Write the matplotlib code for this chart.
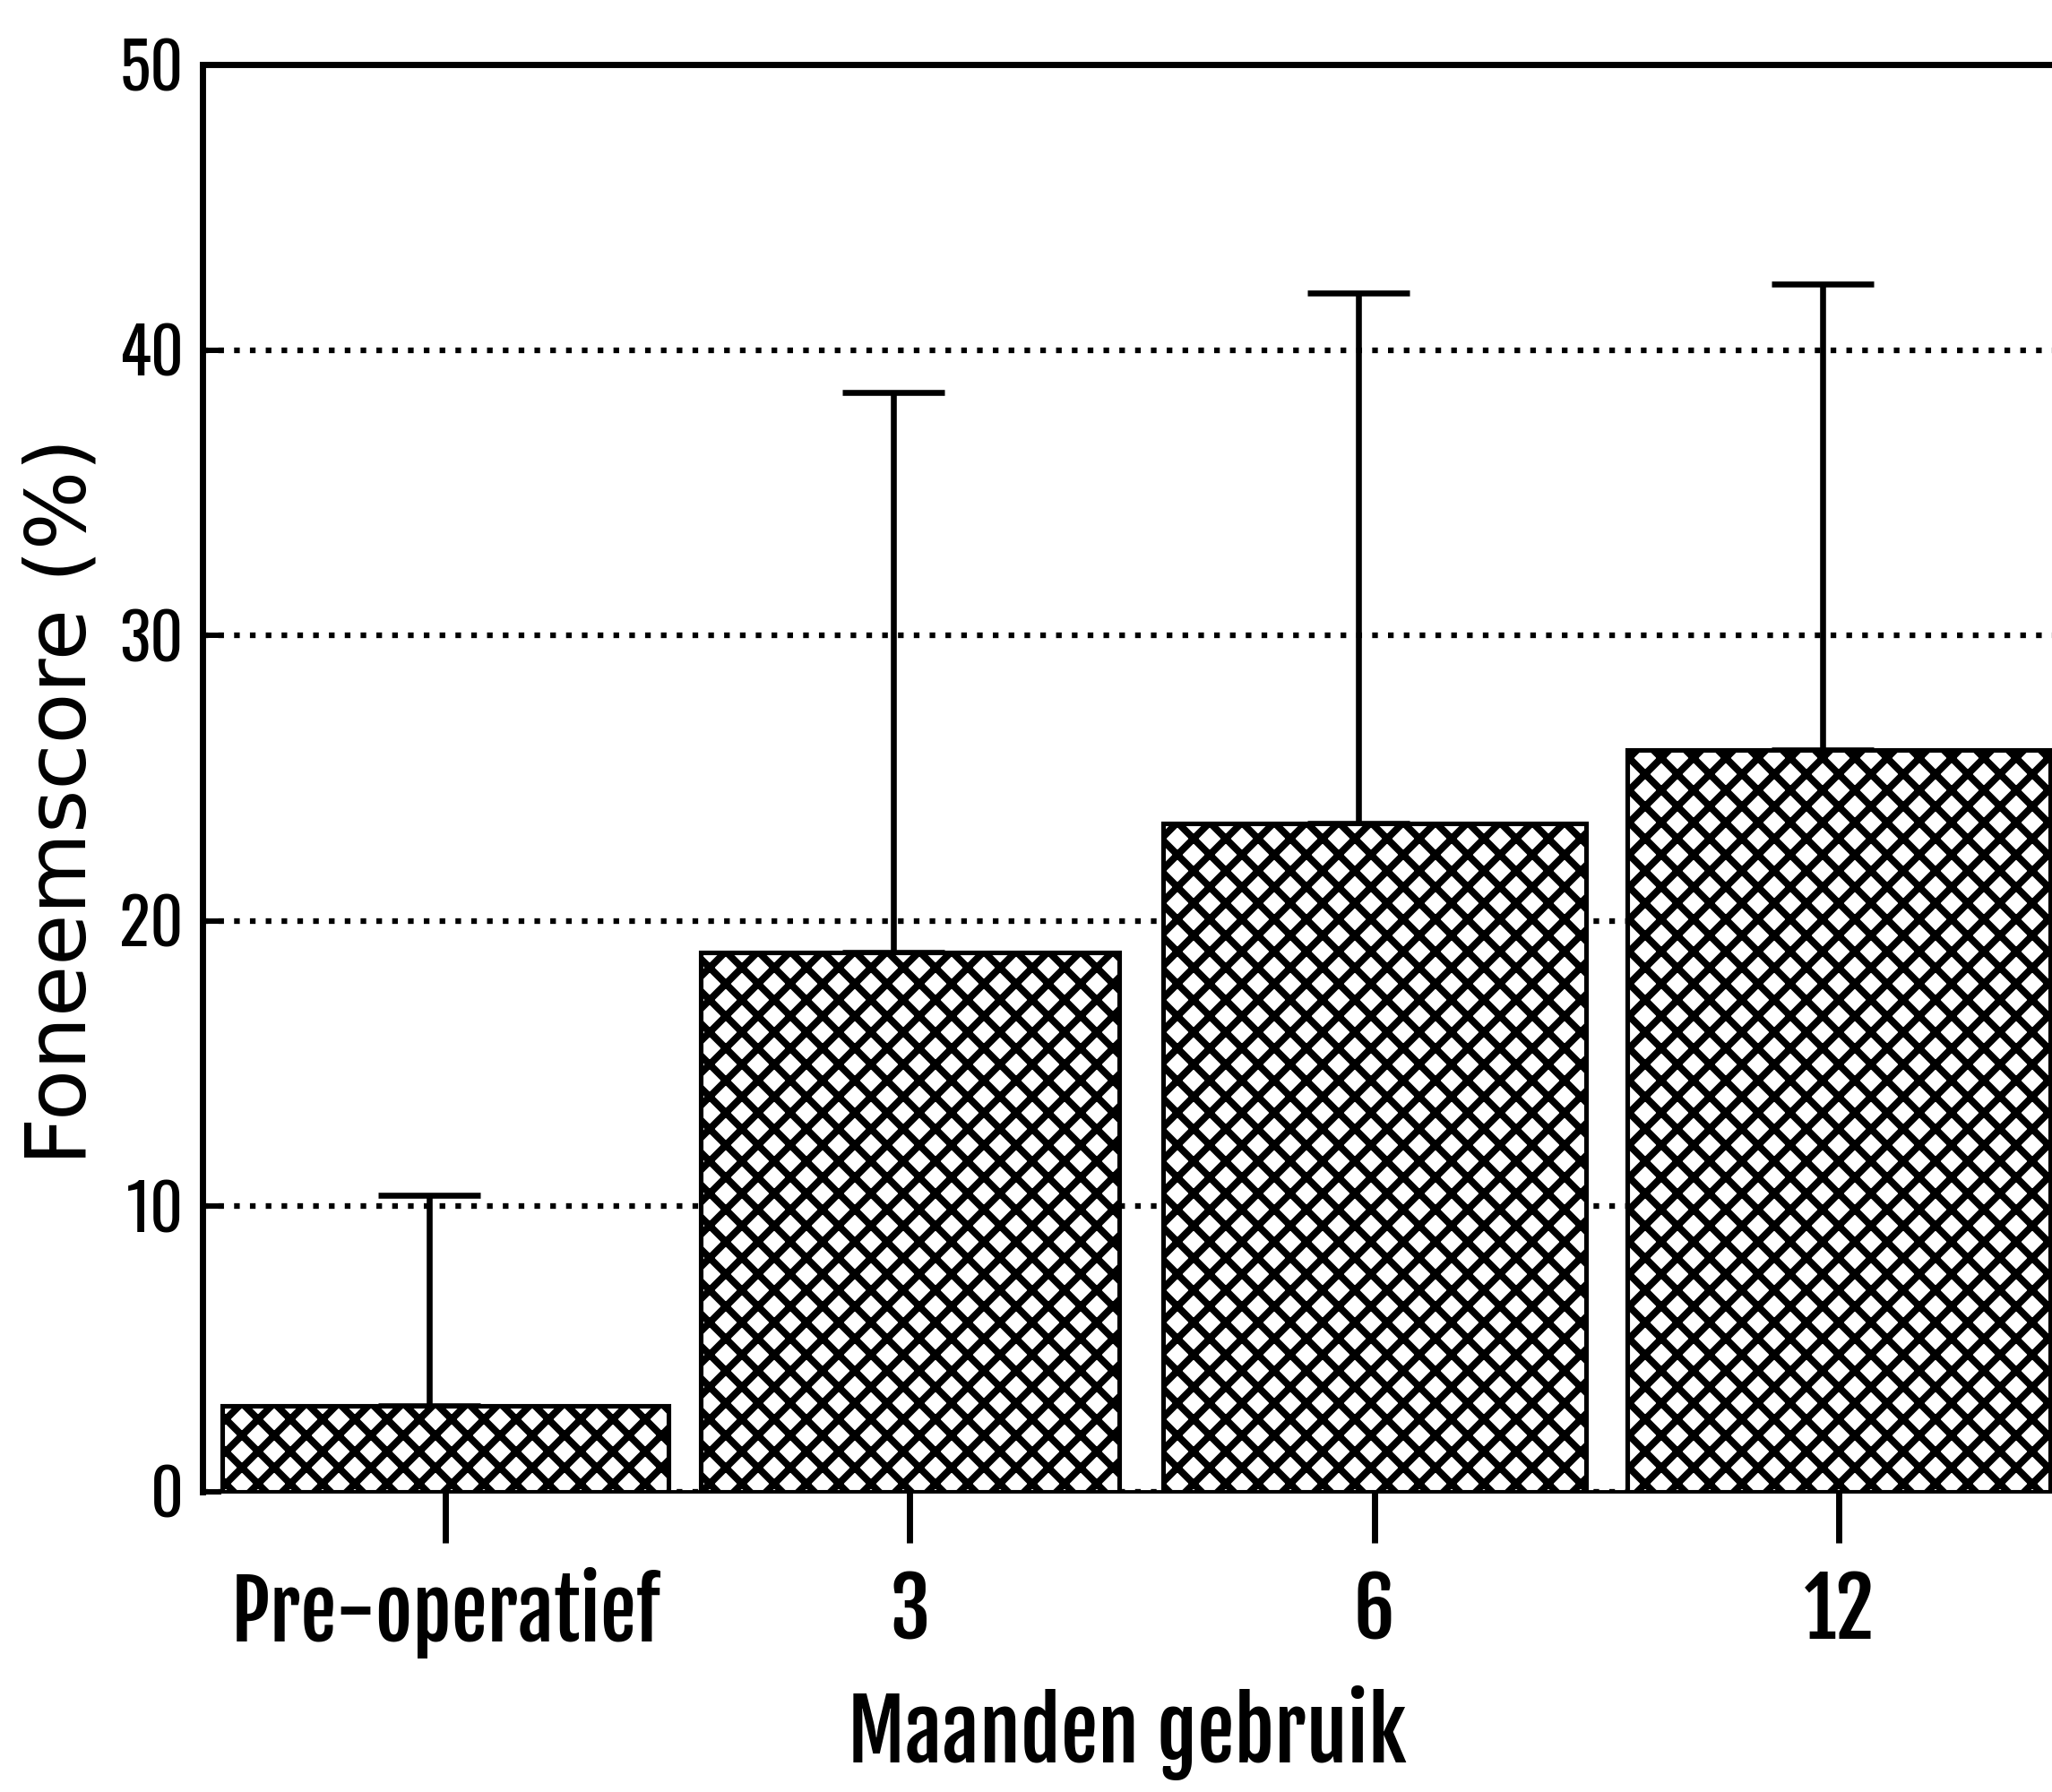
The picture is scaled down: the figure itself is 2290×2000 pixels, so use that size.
import matplotlib
matplotlib.use('Agg')
import matplotlib.pyplot as plt
import numpy as np
from matplotlib import font_manager

# data
categories = ['Pre-operatief', '3', '6', '12']
means = [3.0, 18.9, 23.4, 26.0]
sd_upper = [7.4, 19.6, 18.6, 16.3]
bar_widths = [0.96, 0.9, 0.91, 0.91]
y_ticks = [0, 10, 20, 30, 40, 50]

names = {f.name for f in font_manager.fontManager.ttflist}
# heavy condensed gothic for the x labels, plain condensed for the y ticks
bold_narrow = next((n for n in ['Fjalla One', 'Barlow Condensed', 'Roboto Condensed']
                    if n in names), 'DejaVu Sans')
thin_narrow = next((n for n in ['Oswald', 'Roboto Condensed'] if n in names), 'DejaVu Sans')

plt.rcParams['hatch.linewidth'] = 2.6
plt.rcParams['hatch.color'] = 'black'

DPI = 216  # with 'xx' this gives the 36 px hatch period of the original
fig = plt.figure(figsize=(2290 / DPI, 2000 / DPI), dpi=DPI)
ax = fig.add_axes([226 / 2290, 335 / 2000, 1 - 226 / 2290, (1665 - 72) / 2000])

x = np.arange(len(categories))
ax.bar(x, means, width=bar_widths, color='white', edgecolor='black',
       linewidth=1.7, hatch='xx', zorder=2)
ax.errorbar(x - 0.035, means, yerr=[np.zeros(len(means)), sd_upper], fmt='none',
            ecolor='black', elinewidth=2.2, capsize=19, capthick=2.2, zorder=1.5)

ax.set_xlim(-0.523, 3.459)
ax.set_ylim(0, 50)
ax.set_yticks(y_ticks)
ax.set_xticks(x)
ax.set_xticklabels(categories, fontfamily=bold_narrow, fontweight='bold', fontsize=30)
ax.set_yticklabels([str(v) for v in y_ticks], fontfamily=thin_narrow, fontsize=24)

ax.tick_params(axis='x', direction='out', length=19, width=2.3, pad=9)
ax.tick_params(axis='y', direction='in', length=7, width=2.0, pad=7)

ax.set_axisbelow(True)
ax.yaxis.grid(True, color='black', linewidth=2.1, linestyle=(0, (1, 1.8)))
ax.xaxis.grid(False)

ax.spines['right'].set_visible(False)
ax.spines['top'].set_linewidth(2.3)
ax.spines['left'].set_linewidth(2.3)
ax.spines['bottom'].set_linewidth(1.3)

ax.set_xlabel('Maanden gebruik', fontfamily=bold_narrow, fontweight='bold', fontsize=31, labelpad=10)
ax.set_ylabel('Foneemscore (%)', fontfamily='DejaVu Sans', fontsize=31, va='center')
ax.yaxis.set_label_coords(-0.0756, 0.484)

fig.savefig('out.png', dpi=DPI)
